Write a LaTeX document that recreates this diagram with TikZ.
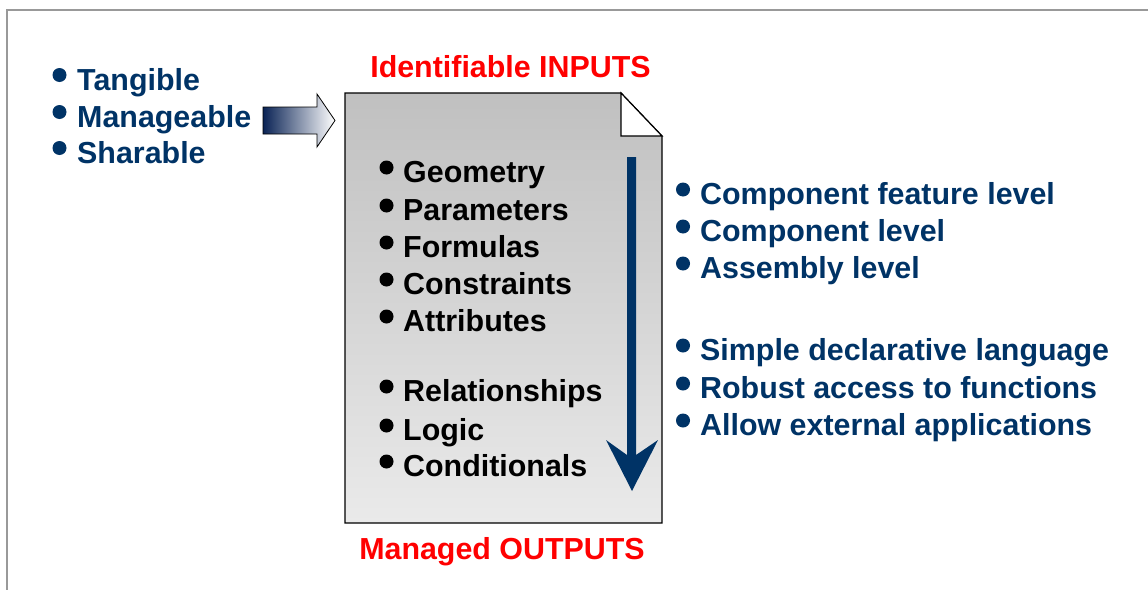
\documentclass[tikz,border=0pt]{standalone}
\usepackage{fontspec}
\setmainfont{Liberation Sans}
\usetikzlibrary{shadings}
\definecolor{navy}{RGB}{0,51,102}
\definecolor{framegray}{RGB}{153,153,153}
\definecolor{doctop}{RGB}{192,192,192}
\definecolor{docbot}{RGB}{234,234,234}
\definecolor{arrdark}{RGB}{10,35,85}
\begin{document}
\begin{tikzpicture}[x=1pt,y=-1pt,
  txt/.style={anchor=base west,inner sep=0pt,font=\fontsize{30.4}{36}\selectfont\bfseries},
  bluetxt/.style={txt,text=navy},
  blacktxt/.style={txt,text=black},
  redtxt/.style={anchor=base,inner sep=0pt,text=red,font=\fontsize{30.4}{36}\selectfont\bfseries}
]
\useasboundingbox (0,0) rectangle (1148,589);
% frame
\draw[framegray,line width=2.2pt] (7,590) -- (7,10) -- (1150,10);

% left list
\node[bluetxt] (t1) at (77,90) {Tangible};
\node[bluetxt] (t2) at (77,127) {Manageable};
\node[bluetxt] (t3) at (77,163) {Sharable};
\foreach \n in {t1,t2,t3}
  \fill[navy] ([xshift=-17.5pt,yshift=15pt]\n.base west) circle (7pt);

% gradient arrow
\shade[left color=arrdark,right color=white,draw=black,line width=0.8pt]
  (263,107) -- (317,107) -- (317,94) -- (335,120.5) -- (317,147) -- (317,134) -- (263,134) -- cycle;
\coordinate (arrtip) at (335,120.5);

% document
\shade[top color=doctop,bottom color=docbot,draw=black,line width=1.2pt]
  (345,93) -- (621,93) -- (662,136) -- (662,523) -- (345,523) -- cycle;
\filldraw[fill=white,draw=black,line width=1.2pt,line join=miter]
  (621,93) -- (621,136) -- (662,136) -- cycle;

% titles
\node[redtxt] (in) at (510.5,77) {Identifiable INPUTS};
\node[redtxt] (out) at (502,559) {Managed OUTPUTS};

% inner list
\node[blacktxt] (g1) at (403,182) {Geometry};
\node[blacktxt] (g2) at (403,220) {Parameters};
\node[blacktxt] (g3) at (403,257) {Formulas};
\node[blacktxt] (g4) at (403,294) {Constraints};
\node[blacktxt] (g5) at (403,331) {Attributes};
\node[blacktxt] (g6) at (403,401) {Relationships};
\node[blacktxt] (g7) at (403,440) {Logic};
\node[blacktxt] (g8) at (403,476) {Conditionals};
\foreach \n in {g1,g2,g3,g4,g5,g6,g7,g8}
  \fill[black] ([xshift=-16.5pt,yshift=14.5pt]\n.base west) circle (7pt);

% blue down arrow
\fill[navy] (627,157) -- (636,157) -- (636,455) -- (658,440) -- (632,491)
  -- (606,440) -- (627,455) -- cycle;

% right list
\node[bluetxt] (r1) at (700,204) {Component feature level};
\node[bluetxt] (r2) at (700,241) {Component level};
\node[bluetxt] (r3) at (700,278) {Assembly level};
\node[bluetxt] (r4) at (700,360) {Simple declarative language};
\node[bluetxt] (r5) at (700,398) {Robust access to functions};
\node[bluetxt] (r6) at (700,435) {Allow external applications};
\foreach \n in {r1,r2,r3,r4,r5,r6}
  \fill[navy] ([xshift=-17pt,yshift=14.5pt]\n.base west) circle (7pt);
\end{tikzpicture}
\end{document}
